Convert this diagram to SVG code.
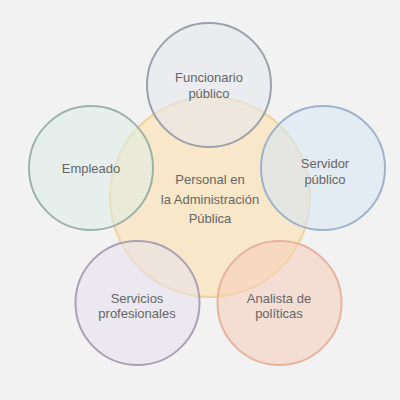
<svg xmlns="http://www.w3.org/2000/svg" width="400" height="400" viewBox="0 0 400 400">
<style>
  .c { stroke-width: 2; }
  .t { font-family: "Liberation Sans", Arial, sans-serif; font-size: 13px; fill: #666; text-anchor: middle; }
</style>
<rect width="400" height="400" fill="#f2f2f2"/>
<g id="central">
  <circle class="c" cx="210" cy="197" r="100" fill="#f9e3b9" fill-opacity="0.75" stroke="#efd49e"/>
  <text class="t" x="210" y="184">Personal en</text>
  <text class="t" x="210" y="204">la Administración</text>
  <text class="t" x="210" y="223">Pública</text>
</g>
<g id="funcionario">
  <circle class="c" cx="209" cy="85" r="62" fill="#e4e8ee" fill-opacity="0.55" stroke="#9da1aa"/>
  <text class="t" x="209" y="82">Funcionario</text>
  <text class="t" x="209" y="98">público</text>
</g>
<g id="empleado">
  <circle class="c" cx="91" cy="168" r="62" fill="#dcece6" fill-opacity="0.55" stroke="#9db3a9"/>
  <text class="t" x="91" y="173">Empleado</text>
</g>
<g id="servidor">
  <circle class="c" cx="323" cy="168" r="62" fill="#d9e6f3" fill-opacity="0.6" stroke="#9db2cb"/>
  <text class="t" x="325" y="168">Servidor</text>
  <text class="t" x="325" y="184">público</text>
</g>
<g id="servicios">
  <circle class="c" cx="137.5" cy="303" r="62" fill="#e6e2ec" fill-opacity="0.55" stroke="#aaa2b4"/>
  <text class="t" x="137" y="303">Servicios</text>
  <text class="t" x="137" y="318">profesionales</text>
</g>
<g id="analista">
  <circle class="c" cx="279.5" cy="303" r="62" fill="#f5cdb9" fill-opacity="0.55" stroke="#e8b39c"/>
  <text class="t" x="279" y="303">Analista de</text>
  <text class="t" x="279" y="318">políticas</text>
</g>
<g id="connectors"></g>
</svg>
